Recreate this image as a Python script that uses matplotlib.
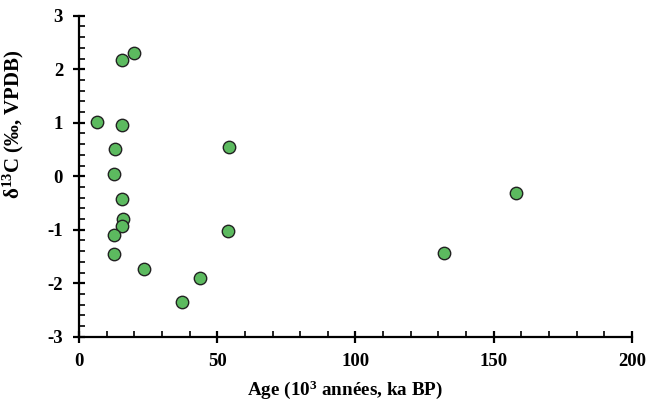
import matplotlib.pyplot as plt
from matplotlib.ticker import MultipleLocator

age = [6.5, 15.4, 19.9, 15.4, 13.1, 12.6, 54.1, 15.4, 16.0, 15.4,
       12.6, 12.6, 23.5, 37.1, 43.7, 54.0, 158.1, 132.0]
d13c = [1.02, 2.17, 2.31, 0.95, 0.50, 0.04, 0.55, -0.42, -0.80, -0.93,
        -1.10, -1.46, -1.74, -2.36, -1.91, -1.03, -0.32, -1.44]

plt.rcParams['font.family'] = ['Liberation Serif', 'DejaVu Serif']
plt.rcParams['font.weight'] = 'bold'
plt.rcParams['axes.unicode_minus'] = False
plt.rcParams['mathtext.fontset'] = 'custom'
plt.rcParams['mathtext.rm'] = 'Liberation Serif:bold'
plt.rcParams['mathtext.bf'] = 'Liberation Serif:bold'
plt.rcParams['mathtext.default'] = 'bf'

fig = plt.figure(figsize=(6.49, 4.05), dpi=100)
ax = fig.add_axes([0.1217, 0.1686, 0.852, 0.7925])

ax.scatter(age, d13c, s=80, facecolor='#5cba5f', edgecolor='#222222',
           linewidth=1.0, zorder=3, clip_on=False)

ax.set_xlim(0, 200)
ax.set_ylim(-3, 3)
ax.xaxis.set_major_locator(MultipleLocator(50))
ax.xaxis.set_minor_locator(MultipleLocator(10))
ax.yaxis.set_major_locator(MultipleLocator(1))
ax.yaxis.set_minor_locator(MultipleLocator(0.2))

for s in ['top', 'right']:
    ax.spines[s].set_visible(False)
for s in ['left', 'bottom']:
    ax.spines[s].set_linewidth(1.6)

ax.tick_params(which='major', direction='inout', length=9, width=1.6,
               labelsize=13.5, pad=7)
ax.tick_params(which='minor', direction='in', length=4, width=1.2)

ax.set_xlabel('Age (10$^3$ années, ka BP)', fontsize=13.8, fontweight='bold')
ax.set_ylabel('δ$^{13}$C (‰, VPDB)', fontsize=15, fontweight='bold')
ax.xaxis.set_label_coords(0.481, -0.166)
ax.xaxis.label.set_va('center')
ax.yaxis.set_label_coords(-0.119, 0.663)
ax.yaxis.label.set_va('center')

fig.savefig('out.png', dpi=100)
